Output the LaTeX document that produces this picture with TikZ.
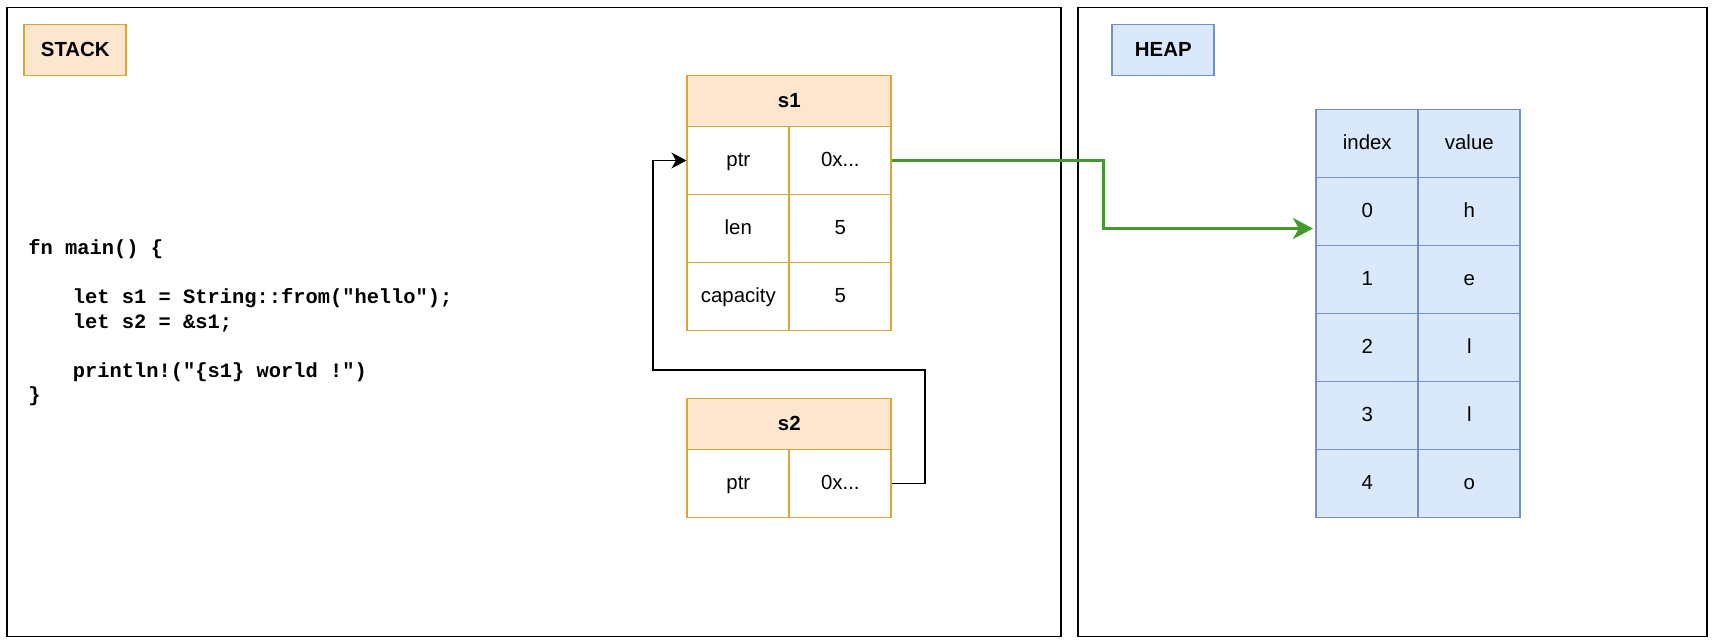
\documentclass[tikz,border=0pt]{standalone}
\usepackage{fontspec}
\setmainfont{Liberation Sans}
\newfontfamily\codefont{Liberation Mono}
\usetikzlibrary{arrows.meta}
\definecolor{orfill}{HTML}{FCE6CE}
\definecolor{ordraw}{HTML}{D8A53A}
\definecolor{blfill}{HTML}{DAE8FC}
\definecolor{bldraw}{HTML}{7391C5}
\definecolor{grline}{HTML}{46982C}
\tikzset{
  lbl/.style={font=\fontsize{20.4}{24.5}\selectfont, text height=16.8pt, text depth=4.2pt, inner sep=0pt},
  frame/.style={draw=black, line width=1.7pt, minimum width=1054pt, minimum height=629pt, inner sep=0pt},
  tagor/.style={lbl, draw=ordraw, fill=orfill, line width=1.7pt, minimum width=102pt, minimum height=51pt, font=\fontsize{20.4}{24.5}\selectfont\bfseries},
  tagbl/.style={tagor, draw=bldraw, fill=blfill},
  hdr/.style={tagor, minimum width=204pt},
  cellor/.style={lbl, draw=ordraw, fill=white, line width=1.7pt, minimum width=102pt, minimum height=68pt},
  cellbl/.style={lbl, draw=bldraw, fill=blfill, line width=1.7pt, minimum width=102pt, minimum height=68pt},
  code/.style={font=\fontsize{20.4}{24.5}\selectfont\codefont\bfseries, align=left, inner sep=0pt, anchor=base west},
  blackarrow/.style={draw=black, line width=1.7pt, -{Stealth[length=15pt,width=16pt,inset=4.5pt]}},
  greenarrow/.style={draw=grline, line width=3pt, -{Stealth[length=20pt,width=21pt,inset=6pt]}}
}
\begin{document}
\begin{tikzpicture}[x=1.7pt, y=-1.7pt]
\useasboundingbox[fill=white] (-4.294,-4.412) rectangle (1003.94,374.41);
% frames
\node[frame] (stackframe) at (310,185) {};
\node[frame, minimum width=629pt] (heapframe) at (815,185) {};
% labels
\node[tagor] (stacktag) at (40,25) {STACK};
\node[tagbl] (heaptag) at (680,25) {HEAP};
% code (base anchor = baseline of the last line)
\node[code] (code) at (12.35,231.9) {fn main() \{\\
\mbox{}\\
\hspace*{44.5pt}let s1 = String::from("hello");\\
\hspace*{44.5pt}let s2 = \&s1;\\
\mbox{}\\
\hspace*{44.5pt}println!("\{s1\} world !")\\
\}};
% s1 table
\node[hdr] (s1h) at (460,55) {s1};
\node[cellor] (s1k0) at (430,90) {ptr};
\node[cellor] (s1v0) at (490,90) {0x...};
\node[cellor] (s1k1) at (430,130) {len};
\node[cellor] (s1v1) at (490,130) {5};
\node[cellor] (s1k2) at (430,170) {capacity};
\node[cellor] (s1v2) at (490,170) {5};
% s2 table
\node[hdr] (s2h) at (460,245) {s2};
\node[cellor] (s2k0) at (430,280) {ptr};
\node[cellor] (s2v0) at (490,280) {0x...};
% heap table
\node[cellbl] (hhi) at (800,80) {index};
\node[cellbl] (hhv) at (860,80) {value};
\node[cellbl] (h0i) at (800,120) {0};
\node[cellbl] (h0v) at (860,120) {h};
\node[cellbl] (h1i) at (800,160) {1};
\node[cellbl] (h1v) at (860,160) {e};
\node[cellbl] (h2i) at (800,200) {2};
\node[cellbl] (h2v) at (860,200) {l};
\node[cellbl] (h3i) at (800,240) {3};
\node[cellbl] (h3v) at (860,240) {l};
\node[cellbl] (h4i) at (800,280) {4};
\node[cellbl] (h4v) at (860,280) {o};
% connectors
\coordinate (gbend) at (645,130);
\coordinate (gin) at (768,130);
\draw[greenarrow] (s1v0.east) -| (gbend) -- (gin);
\coordinate (b1) at (540,213.3);
\coordinate (b2) at (380,213.3);
\draw[blackarrow] (s2v0.east) -| (b1) -- (b2) |- (s1k0.west);
\end{tikzpicture}
\end{document}
